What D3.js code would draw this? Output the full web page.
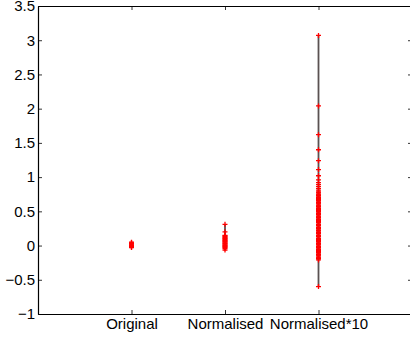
<!DOCTYPE html>
<html><head><meta charset="utf-8">
<script src="https://cdn.jsdelivr.net/npm/d3@7"></script>
<style>
html,body{margin:0;padding:0;background:#fff;}
svg{display:block;}
text{font-family:"Liberation Sans",Arial,Helvetica,sans-serif;font-size:15px;fill:#000;}
</style></head><body>
<script>
const categories = ["Original", "Normalised", "Normalised*10"];
const originalVals = [0.05, 0.04, 0.03, 0.02, 0.01, 0.0, -0.01, -0.02, -0.03];
const normalisedVals = [0.31, 0.20, 0.15, 0.14, 0.13, 0.12, 0.11, 0.10, 0.09, 0.08, 0.07, 0.06, 0.05, 0.04, 0.03, 0.02, 0.01, 0.0, -0.01, -0.02, -0.03, -0.04, -0.065];
const normalised10Vals = [3.07, 2.04, 1.62, 1.40, 1.24, 1.11, 1.02, 0.96, 0.92, 0.89, 0.86, 0.83, 0.80,
  0.78, 0.77, 0.75, 0.74, 0.73, 0.71, 0.70, 0.69, 0.67, 0.66, 0.65, 0.63, 0.62, 0.61, 0.59, 0.58, 0.57,
  0.55, 0.54, 0.53, 0.51, 0.50, 0.49, 0.47, 0.46, 0.45, 0.43, 0.42, 0.41, 0.39, 0.38, 0.37, 0.35, 0.34,
  0.33, 0.31, 0.30, 0.29, 0.27, 0.26, 0.25, 0.23, 0.22, 0.21, 0.19, 0.18, 0.17, 0.15, 0.14, 0.13, 0.11,
  0.10, 0.09, 0.07, 0.06, 0.05, 0.03, 0.02, 0.01, -0.01, -0.02, -0.03, -0.05, -0.06, -0.07, -0.09, -0.10,
  -0.11, -0.13, -0.14, -0.15, -0.17, -0.18, -0.19, -0.21, -0.60];
const seriesValues = [originalVals, normalisedVals, normalised10Vals];
const yTicks = [-1, -0.5, 0, 0.5, 1, 1.5, 2, 2.5, 3, 3.5];
const xTicks = [1, 2, 3];

const W = 410, H = 338;
const svg = d3.select("body").append("svg").attr("width", W).attr("height", H);
const x = d3.scaleLinear().domain([0, 4]).range([38, 412]);
const y = d3.scaleLinear().domain([-1, 3.5]).range([314, 6]);

const fmt = d3.format("");

svg.append("g").attr("transform", `translate(${x(0)},0)`)
  .call(d3.axisLeft(y).tickValues(yTicks).tickFormat(fmt).tickSizeInner(-4).tickSizeOuter(0).tickPadding(3));
svg.append("g").attr("transform", `translate(${x(4)},0)`)
  .call(d3.axisRight(y).tickValues(yTicks).tickFormat("").tickSizeInner(-4).tickSizeOuter(0));
svg.append("g").attr("transform", `translate(0,${y(-1)})`)
  .call(d3.axisBottom(x).tickValues(xTicks).tickFormat((d, i) => categories[i]).tickSizeInner(-4).tickSizeOuter(0).tickPadding(4));
svg.append("g").attr("transform", `translate(0,${y(3.5)})`)
  .call(d3.axisTop(x).tickValues(xTicks).tickFormat("").tickSizeInner(-4).tickSizeOuter(0));

svg.selectAll(".domain").attr("stroke", "#000").attr("stroke-width", 1.2);
svg.selectAll(".tick line").attr("stroke", "#000").attr("stroke-width", 0.8);
svg.selectAll(".tick text").attr("font-size", 15).attr("font-family", "Liberation Sans, Arial, sans-serif").attr("fill", "#000");

const g = svg.append("g");
seriesValues.forEach((vals, i) => {
  const cx = x(i + 1);
  const ext = d3.extent(vals);
  g.append("line").attr("x1", cx).attr("x2", cx).attr("y1", y(ext[0])).attr("y2", y(ext[1]))
    .attr("stroke", "#5a5252").attr("stroke-width", 1.8);
  g.selectAll(null).data(vals).enter().append("path")
    .attr("d", "M-2.5,0H2.5M0,-2.5V2.5")
    .attr("transform", d => `translate(${cx},${y(d)})`)
    .attr("stroke", "#ff0000").attr("stroke-width", 1.3).attr("fill", "none");
});
</script>
</body></html>
